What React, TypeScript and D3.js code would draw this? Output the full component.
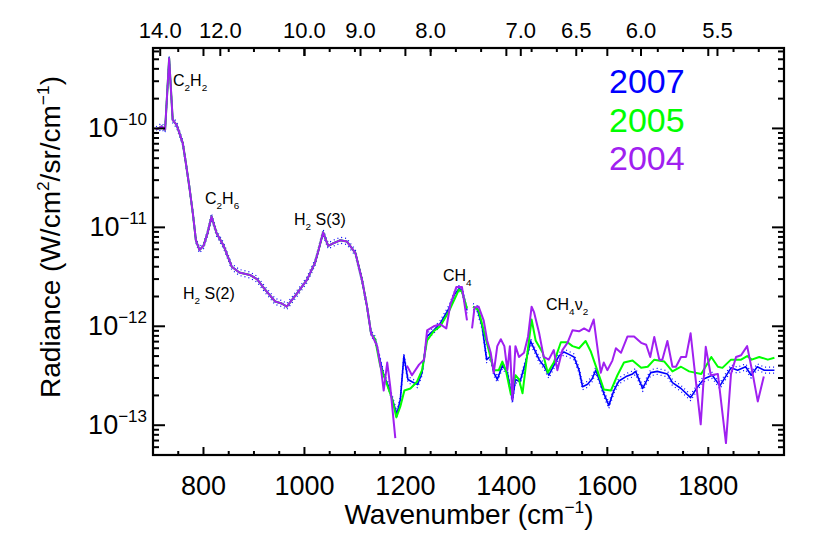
import React from 'react';
import * as d3 from 'd3';

// shared part of the spectrum (the three years overlap here)
const commonWn = [706, 717, 724, 732, 739, 747, 759, 765, 772, 779, 785, 792, 800, 808, 816, 826, 840, 856, 871, 892, 906, 922, 942, 955, 965, 985, 1005, 1021, 1028, 1037, 1047, 1057, 1071, 1084, 1101, 1114, 1124, 1132];
const commonVal = [9.7e-11, 1.05e-10, 9.7e-11, 5.1e-10, 1.22e-10, 1.08e-10, 7.1e-11, 4.5e-11, 2.57e-11, 1.38e-11, 7.4e-12, 5.9e-12, 6.5e-12, 8.7e-12, 1.29e-11, 8.7e-12, 6.5e-12, 4.0e-12, 3.5e-12, 3.3e-12, 3.0e-12, 2.35e-12, 1.78e-12, 1.7e-12, 1.58e-12, 2.14e-12, 2.95e-12, 4.4e-12, 5.9e-12, 8.9e-12, 6.5e-12, 6.9e-12, 7.4e-12, 7.2e-12, 5.5e-12, 2.95e-12, 1.58e-12, 8.5e-13];

// 2007 (null = gap)
const wn2007 = [1140, 1150, 1157, 1167, 1183, 1190, 1197, 1205, 1213, 1224, 1233, 1243, 1256, 1269, 1286, 1297, 1306, 1312, 1322, 1328, 1334, 1342, 1352, 1361, 1369, 1375, 1382, 1392, 1402, 1412, 1418, 1427, 1438, 1448, 1455, 1465, 1474, 1484, 1494, 1504, 1514, 1524, 1534, 1544, 1551, 1561, 1570, 1577, 1587, 1593, 1603, 1613, 1623, 1637, 1650, 1656, 1670, 1686, 1699, 1719, 1729, 1746, 1765, 1779, 1792, 1808, 1823, 1845, 1858, 1874, 1885, 1897, 1911, 1931];
const val2007 = [7.4e-13, 4.5e-13, 3.2e-13, 2.45e-13, 1.29e-13, 1.82e-13, 5.0e-13, 2.9e-13, 2.75e-13, 2.57e-13, 3.4e-13, 7.9e-13, 9.1e-13, 1.07e-12, 1.51e-12, 2.09e-12, 2.4e-12, 2.35e-12, 1.45e-12, null, 1.58e-12, 1.51e-12, 1.0e-12, 4.6e-13, 5.0e-13, 3.4e-13, 2.9e-13, 4.0e-13, 3.4e-13, 1.78e-13, 2.9e-13, 2.75e-13, 4.3e-13, 7.1e-13, 5.9e-13, 4.6e-13, 4.0e-13, 3.2e-13, 4.0e-13, 5.0e-13, 5.5e-13, 5.2e-13, 4.9e-13, 3.6e-13, 2.45e-13, 2.6e-13, 2.95e-13, 3.6e-13, 2.6e-13, 2.1e-13, 1.58e-13, 2.24e-13, 2.8e-13, 3.1e-13, 3.3e-13, 3.5e-13, 2.35e-13, 3.4e-13, 3.5e-13, 3.3e-13, 2.7e-13, 2.35e-13, 1.9e-13, 2.45e-13, 2.95e-13, 3.2e-13, 2.5e-13, 3.8e-13, 3.6e-13, 3.9e-13, 3.2e-13, 3.9e-13, 3.6e-13, 3.6e-13];

// 2005
const wn2005 = [1140, 1150, 1160, 1174, 1182, 1190, 1198, 1210, 1223, 1233, 1243, 1256, 1269, 1286, 1297, 1306, 1312, 1322, 1328, 1334, 1345, 1355, 1365, 1375, 1385, 1392, 1399, 1409, 1418, 1425, 1432, 1442, 1450, 1458, 1472, 1482, 1494, 1508, 1521, 1531, 1544, 1557, 1567, 1580, 1593, 1607, 1620, 1633, 1650, 1667, 1680, 1693, 1713, 1729, 1746, 1762, 1786, 1806, 1819, 1828, 1845, 1865, 1877, 1886, 1901, 1918, 1931];
const val2005 = [7.4e-13, 4.0e-13, 2.9e-13, 1.82e-13, 1.2e-13, 1.55e-13, 2.24e-13, 2.35e-13, 2.75e-13, 3.6e-13, 7.2e-13, 8.9e-13, 1.0e-12, 1.41e-12, 1.86e-12, 2.35e-12, 2.24e-12, 1.51e-12, null, 1.58e-12, 1.45e-12, 9.1e-13, 5.75e-13, 3.6e-13, 3.6e-13, 4.4e-13, 3.6e-13, 2.04e-13, 3.2e-13, 2.9e-13, 2.1e-13, 5.5e-13, 1.17e-12, 7.2e-13, 5.4e-13, 3.4e-13, 4.3e-13, 6.9e-13, 6.9e-13, 6.3e-13, 6.0e-13, 7.1e-13, 5.6e-13, 3.6e-13, 2.3e-13, 2.24e-13, 3.2e-13, 4.3e-13, 4.5e-13, 3.8e-13, 3.9e-13, 4.6e-13, 4.4e-13, 3.5e-13, 3.9e-13, 3.5e-13, 3.3e-13, 4.9e-13, 3.9e-13, 3.8e-13, 4.6e-13, 4.6e-13, 5.0e-13, 4.6e-13, 4.9e-13, 4.6e-13, 4.8e-13];

// 2004
const wn2004 = [1144, 1152, 1157, 1164, 1170, 1180, 1192, 1203, 1213, 1227, 1237, 1243, 1256, 1269, 1281, 1289, 1301, 1312, 1322, 1327, 1332, 1337, 1345, 1355, 1362, 1369, 1375, 1382, 1389, 1396, 1402, 1407, 1412, 1418, 1425, 1435, 1443, 1450, 1455, 1465, 1474, 1484, 1494, 1501, 1511, 1521, 1531, 1544, 1554, 1564, 1573, 1580, 1587, 1593, 1600, 1610, 1617, 1627, 1640, 1653, 1667, 1677, 1685, 1693, 1703, 1709, 1719, 1729, 1736, 1746, 1756, 1765, 1775, 1785, 1795, 1805, 1819, 1835, 1845, 1855, 1865, 1877, 1888, 1898, 1910];
const val2004 = [6.3e-13, 3.6e-13, 2.24e-13, 4.3e-13, 2.45e-13, 7.4e-14, null, 4.0e-13, 3.2e-13, 4.1e-13, 4.6e-13, 9.1e-13, 1.0e-12, 1.05e-12, 9.5e-13, 1.66e-12, 2.5e-12, 2.5e-12, 1.15e-12, null, 9.5e-13, 1.55e-12, 1.58e-12, 1.15e-12, 7.2e-13, 5.4e-13, 3.4e-13, 6.3e-13, 7.4e-13, 6.3e-13, 3.6e-13, 6.3e-13, 1.82e-13, 6.3e-13, 4.9e-13, 5.4e-13, 7.9e-13, 1.58e-12, 1.38e-12, 8.5e-13, 4.9e-13, 4.6e-13, 5.75e-13, 3.6e-13, 5.75e-13, 6.8e-13, 9.1e-13, 8.9e-13, 9.5e-13, 8.9e-13, 1.17e-12, 6.3e-13, 3.4e-13, 4.3e-13, 3.6e-13, 4.5e-13, 6.0e-13, 5.4e-13, 7.9e-13, 7.9e-13, 6.8e-13, 6.5e-13, 4.9e-13, 7.8e-13, 4.6e-13, 4.6e-13, 7.1e-13, 3.9e-13, 3.9e-13, 4.9e-13, 4.9e-13, 8.5e-13, 2.9e-13, 1.02e-13, 6.2e-13, 3.2e-13, 3.3e-13, 6.6e-14, 3.3e-13, 4.9e-13, 5.1e-13, 6.3e-13, 3.3e-13, 1.74e-13, 3.1e-13];

const wavelengthLabels = ['14.0', '12.0', '10.0', '9.0', '8.0', '7.0', '6.5', '6.0', '5.5'];
const yDecades = [-13, -12, -11, -10];
const legendYears = ['2007', '2005', '2004'];
const legendColors = ['#0000ff', '#00ff00', '#a020f0'];

const W = 830;
const H = 553;
const left = 153;
const right = 784;
const top = 48;
const bottom = 455;
const font = 'Liberation Sans, Arial, Helvetica, sans-serif';

type Pt = [number, number | null];
// text pieces: plain, subscript ('b') or superscript ('p')
type Piece = [string, '' | 'b' | 'p'];

const zip = (a: number[], b: (number | null)[]): Pt[] => a.map((d, i) => [d, b[i]]);

// lays out pieces as tspans, shifting baseline for sub/sup and back again
function Rich({ pieces, fs }: { pieces: Piece[]; fs: number }) {
  let level = 0;
  return (
    <>
      {pieces.map(([t, kind], i) => {
        const target = kind === 'b' ? fs * 0.3 : kind === 'p' ? -fs * 0.4 : 0;
        const dy = target - level;
        level = target;
        return (
          <tspan key={i} dy={dy} fontSize={kind ? fs * 0.62 : fs}>
            {t}
          </tspan>
        );
      })}
    </>
  );
}

export default function App() {
  const x = d3.scaleLinear().domain([700, 1950]).range([left, right]);
  const y = d3.scaleLog().domain([5e-14, 6.5e-10]).range([bottom, top]);

  const common = zip(commonWn, commonVal);
  const s2007 = common.concat(zip(wn2007, val2007));
  const s2005 = common.concat(zip(wn2005, val2005));
  const s2004 = common.concat(zip(wn2004, val2004));

  const line = d3
    .line<Pt>()
    .defined((d) => d[1] != null)
    .x((d) => x(d[0]))
    .y((d) => y(d[1] as number));

  // bottom / top box ticks every 50
  const boxTicks = d3.range(750, 1951, 50);
  const wlTicks = wavelengthLabels.map((l) => ({ label: l, wn: 1e4 / parseFloat(l) }));

  // log minor ticks
  const minor: number[] = [];
  for (let k = -14; k <= -10; k++) {
    for (let m = 2; m <= 9; m++) {
      const v = m * Math.pow(10, k);
      if (v > 5e-14 && v < 6.5e-10) minor.push(v);
    }
  }

  const notes: { x: number; y: number; p: Piece[] }[] = [
    { x: 173, y: 86, p: [['C', ''], ['2', 'b'], ['H', ''], ['2', 'b']] },
    { x: 205, y: 204, p: [['C', ''], ['2', 'b'], ['H', ''], ['6', 'b']] },
    { x: 183, y: 299, p: [['H', ''], ['2', 'b'], [' S(2)', '']] },
    { x: 294, y: 225, p: [['H', ''], ['2', 'b'], [' S(3)', '']] },
    { x: 443, y: 281, p: [['CH', ''], ['4', 'b']] },
    { x: 546, y: 310, p: [['CH', ''], ['4', 'b'], ['\u03bd', ''], ['2', 'b']] },
  ];

  return (
    <svg width={W} height={H} style={{ position: 'absolute', left: 0, top: 0 }} fontFamily={font}>
      <rect width={W} height={H} fill="#fff" />
      <defs>
        <clipPath id="plotClip">
          <rect x={left} y={top} width={right - left} height={bottom - top} />
        </clipPath>
      </defs>

      <g clipPath="url(#plotClip)" fill="none" strokeLinejoin="round">
        <path d={line(s2007) ?? ''} stroke="#0000ff" strokeWidth={1.6} />
        <path d={line(s2007) ?? ''} stroke="#0000ff" strokeWidth={1.2} strokeDasharray="1 3" transform="translate(0,-3)" />
        <path d={line(s2007) ?? ''} stroke="#0000ff" strokeWidth={1.2} strokeDasharray="1 3" transform="translate(0,3)" />
        <path d={line(s2005) ?? ''} stroke="#00ff00" strokeWidth={2} />
        <path d={line(s2004) ?? ''} stroke="#a020f0" strokeWidth={2} />
      </g>

      {/* frame */}
      <rect x={left} y={top} width={right - left} height={bottom - top} fill="none" stroke="#000" strokeWidth={2.2} />

      {/* bottom and top ticks */}
      {boxTicks.map((t) => {
        const len = t % 200 === 0 ? 8 : 4;
        return (
          <g key={'bt' + t} stroke="#000" strokeWidth={2}>
            <line x1={x(t)} x2={x(t)} y1={bottom} y2={bottom - len} />
            <line x1={x(t)} x2={x(t)} y1={top} y2={top + len} />
          </g>
        );
      })}
      {d3.range(800, 1801, 200).map((t) => (
        <text key={'bl' + t} x={x(t)} y={495} fontSize={27} textAnchor="middle">
          {t}
        </text>
      ))}
      {wlTicks.map((t) => (
        <g key={'wl' + t.label}>
          <line x1={x(t.wn)} x2={x(t.wn)} y1={top} y2={top + 8} stroke="#000" strokeWidth={2} />
          <text x={x(t.wn)} y={38} fontSize={22} textAnchor="middle">
            {t.label}
          </text>
        </g>
      ))}

      {/* y ticks */}
      {yDecades.map((k) => {
        const v = Math.pow(10, k);
        return (
          <g key={'yd' + k}>
            <line x1={left} x2={left + 12} y1={y(v)} y2={y(v)} stroke="#000" strokeWidth={2} />
            <line x1={right} x2={right - 12} y1={y(v)} y2={y(v)} stroke="#000" strokeWidth={2} />
            <text x={147} y={y(v) + 9} fontSize={27} textAnchor="end">
              10<tspan dy={-12} fontSize={17}>{'\u2212' + -k}</tspan>
            </text>
          </g>
        );
      })}
      {minor.map((v, i) => (
        <g key={'ym' + i} stroke="#000" strokeWidth={2}>
          <line x1={left} x2={left + 6} y1={y(v)} y2={y(v)} />
          <line x1={right} x2={right - 6} y1={y(v)} y2={y(v)} />
        </g>
      ))}

      {/* axis titles */}
      <text x={469} y={524} textAnchor="middle">
        <Rich fs={28} pieces={[['Wavenumber (cm', ''], ['\u22121', 'p'], [')', '']]} />
      </text>
      <text transform="translate(60,237) rotate(-90)" textAnchor="middle">
        <Rich fs={28} pieces={[['Radiance (W/cm', ''], ['2', 'p'], ['/sr/cm', ''], ['\u22121', 'p'], [')', '']]} />
      </text>

      {/* annotations */}
      {notes.map((n, i) => (
        <text key={'n' + i} x={n.x} y={n.y}>
          <Rich fs={16} pieces={n.p} />
        </text>
      ))}

      {/* legend */}
      {legendYears.map((yr, i) => (
        <text key={yr} x={609} y={93 + i * 38.5} fontSize={34} fill={legendColors[i]}>
          {yr}
        </text>
      ))}
    </svg>
  );
}
